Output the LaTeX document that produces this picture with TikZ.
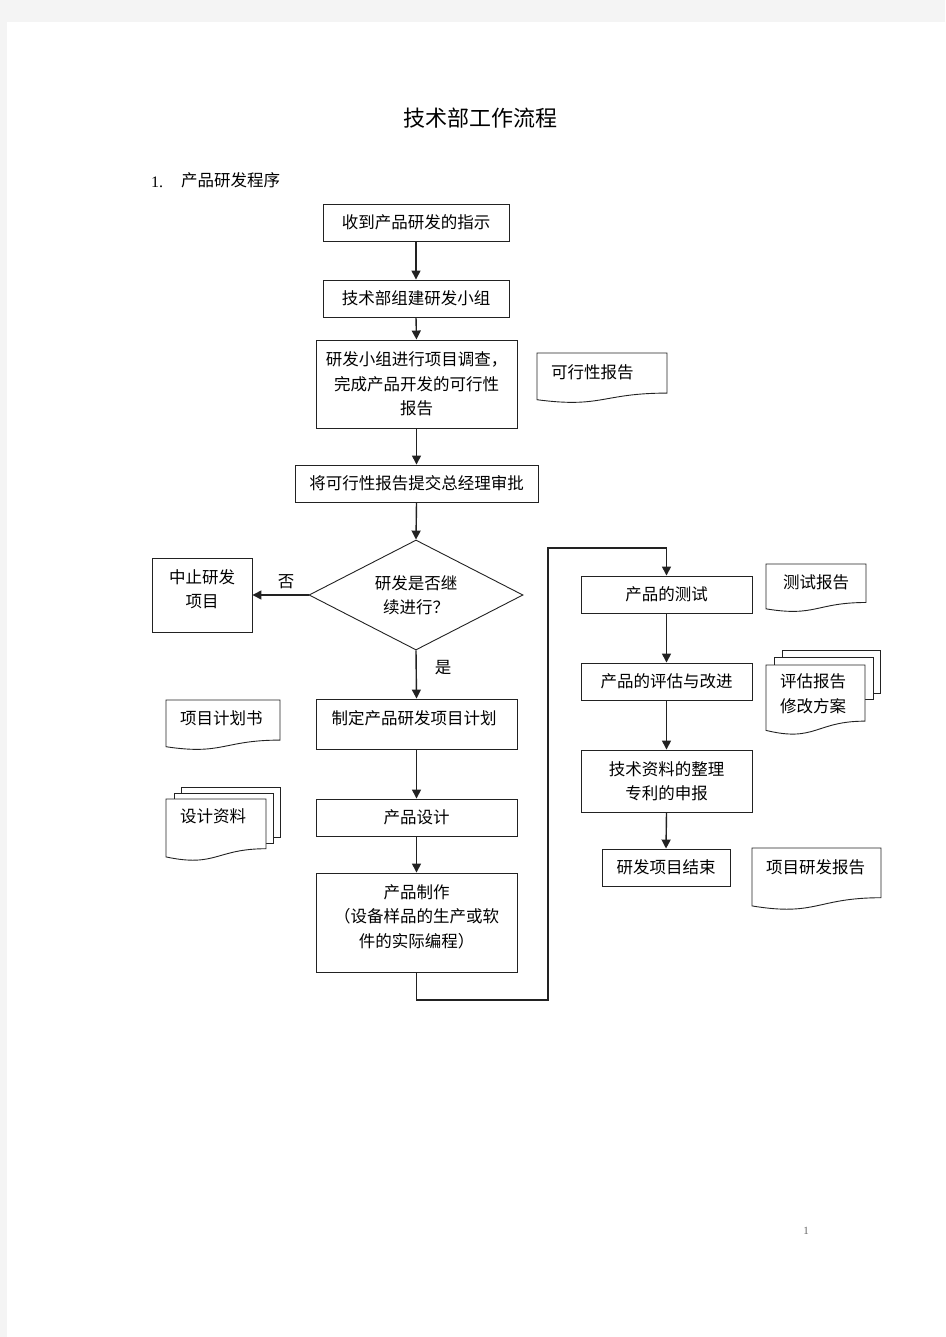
\documentclass[tikz,border=0pt]{standalone}
\usepackage{fontspec}
\setmainfont{Liberation Serif}
\newfontfamily\cjk{Noto Sans CJK SC}
\usetikzlibrary{arrows.meta,shapes.geometric,calc}
\definecolor{ln}{HTML}{222222}
\definecolor{bg}{HTML}{F4F4F4}
\newcommand\docshape[4]{%
  \draw[ln, fill=white] (#1,#2) -- (#3,#2) -- (#3,{#2+0.802*#4})
    .. controls ({(#1+#3)/2},{#2+0.802*#4}) and ({(#1+#3)/2},{#2+1.107*#4}) ..
    (#1,{#2+0.934*#4}) -- cycle;}
\begin{document}
\begin{tikzpicture}[x=1pt,y=-1pt,
  ln/.style={draw=ln, line width=0.9pt},
  box/.style={ln, fill=white, rectangle, inner sep=0pt, align=center,
    font=\cjk\fontsize{16.5}{24.5}\selectfont},
  arr/.style={draw=ln, line width=1.4pt, -{Triangle[length=9pt,width=9pt]}},
  txt/.style={font=\cjk\fontsize{16.5}{24.5}\selectfont, inner sep=0pt, align=left},
]
\fill[bg] (0,0) rectangle (945,1337);
\fill[white] (7,22) rectangle (945,1337);
\useasboundingbox (0,0) rectangle (945,1337);

% titles
\node[font=\cjk\fontsize{22}{26}\selectfont, inner sep=0pt] (title) at (480,118) {技术部工作流程};
\node[anchor=west, inner sep=0pt, font=\fontsize{16}{18}\selectfont] (secn) at (151,182) {1.};
\node[txt, anchor=west] (sec) at (181,180) {产品研发程序};

% main column
\node[box, minimum width=186, minimum height=37] (b1) at (416,222.5) {收到产品研发的指示};
\node[box, minimum width=186, minimum height=37] (b2) at (416,298.5) {技术部组建研发小组};
\node[box, minimum width=201, minimum height=88] (b3) at (416.5,384) {研发小组进行项目调查，\\完成产品开发的可行性\\报告};
\node[box, minimum width=243, minimum height=37] (b4) at (416.5,483.5) {将可行性报告提交总经理审批};
\node[ln, fill=white, diamond, inner sep=0pt, minimum width=214, minimum height=110] (dia) at (416,595) {};
\node[txt, align=center] (diat) at (416,595) {研发是否继\\续进行？};
\node[box, minimum width=100, minimum height=74] (stop) at (202,595) {};
\node[txt, align=center] (stopt) at (202,589) {中止研发\\项目};
\node[box, minimum width=201, minimum height=50] (b7) at (416.5,724) {};
\node[txt] (b7t) at (414,718) {制定产品研发项目计划};
\node[box, minimum width=201, minimum height=37] (b8) at (416.5,817.5) {产品设计};
\node[box, minimum width=201, minimum height=99] (b9) at (416.5,922.5) {};
\node[txt, align=center] (b9t) at (416.5,916.5) {产品制作\\（设备样品的生产或软\\件的实际编程）};

% right column
\node[box, minimum width=171, minimum height=37] (t1) at (666.5,594.5) {产品的测试};
\node[box, minimum width=171, minimum height=37] (t2) at (666.5,681.5) {产品的评估与改进};
\node[box, minimum width=171, minimum height=62] (t3) at (666.5,781) {技术资料的整理\\专利的申报};
\node[box, minimum width=128, minimum height=37] (t4) at (666,867.5) {研发项目结束};

% connectors
\draw[arr] (b1.south) -- (b2.north);
\draw[arr] (b2.south) -- (b3.north);
\draw[arr] (b3.south) -- (b4.north);
\draw[arr] (b4.south) -- (dia.north);
\draw[arr] (dia.west) -- (stop.east);
\draw[arr] (dia.south) -- (b7.north);
\draw[arr] (b7.south) -- (b8.north);
\draw[arr] (b8.south) -- (b9.north);
\coordinate (c1) at (548,1000);
\coordinate (c2) at (548,548);
\draw[arr] (b9.south) |- (c1) -- (c2) -| (t1.north);
\draw[arr] (t1.south) -- (t2.north);
\draw[arr] (t2.south) -- (t3.north);
\draw[arr] (t3.south) -- (t4.north);
\node[txt] (no) at (286,582) {否};
\node[txt] (yes) at (443,668) {是};

% documents
\docshape{537}{353}{667}{50}
\node[txt, anchor=west] (d1) at (551,372) {可行性报告};
\docshape{766}{564}{866}{48}
\node[txt, anchor=west] (d2) at (783,582) {测试报告};
\docshape{166}{700}{280}{50}
\node[txt, anchor=west] (d3) at (180,718) {项目计划书};
\docshape{752}{848}{881}{62}
\node[txt, anchor=west] (d4) at (766,867) {项目研发报告};
% multi documents
\draw[ln, fill=white] (181,787) rectangle (280,837);
\draw[ln, fill=white] (174,793) rectangle (273,843);
\docshape{166}{799}{266}{62}
\node[txt, anchor=west] (d5) at (180,816) {设计资料};
\draw[ln, fill=white] (782,650) rectangle (880,693);
\draw[ln, fill=white] (774,657) rectangle (873,699);
\docshape{766}{665}{865}{70}
\node[txt, anchor=west] (d6) at (780,694) {评估报告\\修改方案};

% page number
\node[inner sep=0pt, font=\fontsize{11}{12}\selectfont, text=black!60] (pg) at (806,1231) {1};
\end{tikzpicture}
\end{document}
